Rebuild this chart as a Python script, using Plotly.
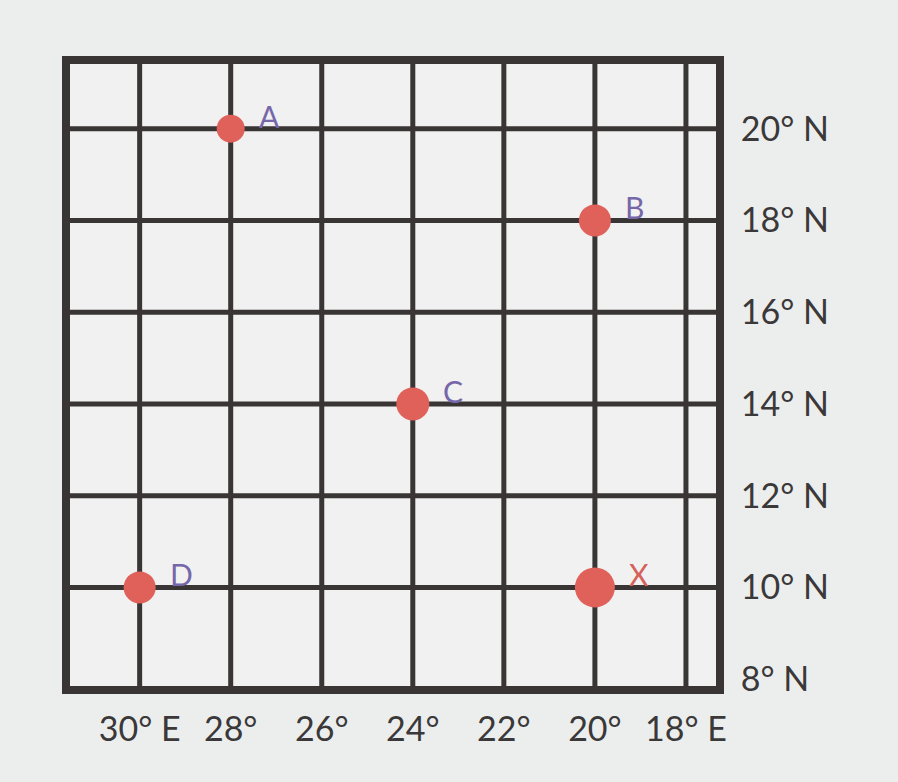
import plotly.graph_objects as go

# Data
point_names = ["A", "B", "C", "D", "X"]
point_lon = [28.0, 20.0, 24.0, 30.0, 20.0]
point_lat = [20.0, 18.0, 14.0, 10.0, 10.0]
point_size = [28, 32, 33, 32, 40]
label_colors = ["#7667aa", "#7667aa", "#7667aa", "#7667aa", "#d6605a"]

lon_lines = [30, 28, 26, 24, 22, 20, 18]
lat_lines = [20, 18, 16, 14, 12, 10]
lon_ticks = [30, 28, 26, 24, 22, 20, 18]
lon_labels = ["30° E", "28°", "26°", "24°", "22°", "20°", "18° E"]
lat_ticks = [20, 18, 16, 14, 12, 10, 8]
lat_labels = ["20° N", "18° N", "16° N", "14° N", "12° N", "10° N", "8° N"]

x_range = [31.53, 17.34]
y_range = [7.85, 21.41]

line_color = "#3a3535"
bg = "#eceeed"

fig = go.Figure()

shapes = []
for lon in lon_lines:
    shapes.append(dict(type="line", xref="x", yref="y", x0=lon, x1=lon,
                       y0=y_range[0], y1=y_range[1],
                       line=dict(color=line_color, width=5), layer="below"))
for lat in lat_lines:
    shapes.append(dict(type="line", xref="x", yref="y", y0=lat, y1=lat,
                       x0=x_range[0], x1=x_range[1],
                       line=dict(color=line_color, width=5), layer="below"))

fig.add_trace(go.Scatter(
    x=point_lon, y=point_lat, mode="markers",
    marker=dict(size=point_size, color="#e0605a", opacity=1, line=dict(width=0)),
    hoverinfo="skip", showlegend=False,
))

annotations = []
for n, lx, ly, c, s in zip(point_names, point_lon, point_lat, label_colors, point_size):
    annotations.append(dict(x=lx, y=ly, xref="x", yref="y", text=n,
                            showarrow=False, xanchor="left", yanchor="middle",
                            xshift=s / 2 + 12, yshift=13,
                            font=dict(family="Lato, sans-serif", size=30, color=c)))

fig.update_layout(
    width=898, height=782,
    margin=dict(l=70, r=182, t=64, b=96),
    paper_bgcolor=bg,
    plot_bgcolor="#f0f1f0",
    shapes=shapes,
    annotations=annotations,
    showlegend=False,
    font=dict(family="Lato, sans-serif", color="#3a3838", size=34),
)
fig.update_xaxes(range=x_range, tickvals=lon_ticks, ticktext=lon_labels,
                 showgrid=False, zeroline=False, showline=True, mirror=True,
                 linecolor=line_color, linewidth=8, ticks="", ticklabelstandoff=6,
                 tickfont=dict(size=34, color="#3a3838"))
fig.update_yaxes(range=y_range, tickvals=lat_ticks, ticktext=lat_labels, side="right",
                 showgrid=False, zeroline=False, showline=True, mirror=True,
                 linecolor=line_color, linewidth=8, ticks="", ticklabelstandoff=10,
                 tickfont=dict(size=34, color="#3a3838"))

fig.write_html("out.html", config={"displayModeBar": False},
               post_script="document.body.style.margin='0';document.body.style.background='%s';" % bg)
